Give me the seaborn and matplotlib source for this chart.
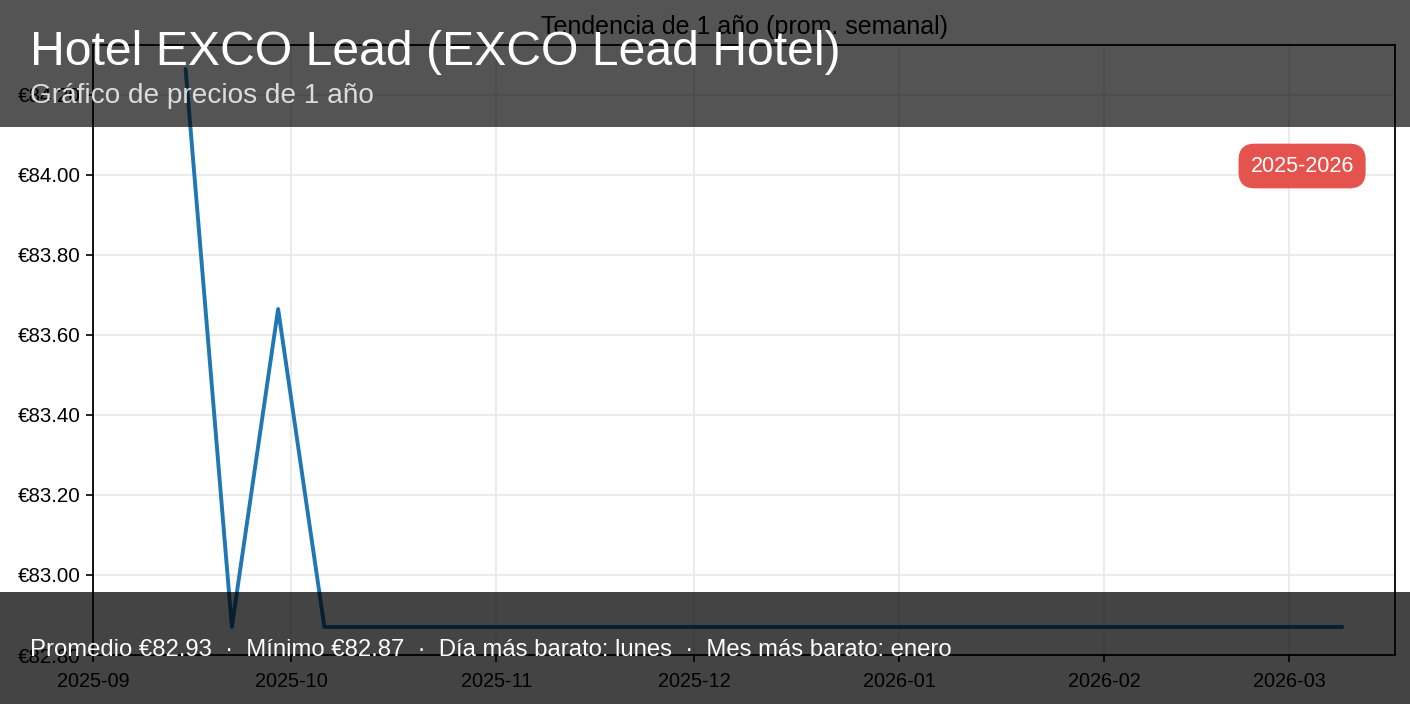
import matplotlib
matplotlib.use("Agg")
import matplotlib.pyplot as plt
import seaborn as sns
import pandas as pd
import numpy as np
from matplotlib.patches import Rectangle
import matplotlib.dates as mdates
import matplotlib.ticker as mticker

# ---- data ----
week_start = "2025-09-15"
n_weeks = 26
prices = [84.265, 82.87, 83.665, 82.87, 82.87, 82.87, 82.87, 82.87, 82.87, 82.87,
          82.87, 82.87, 82.87, 82.87, 82.87, 82.87, 82.87, 82.87, 82.87, 82.87,
          82.87, 82.87, 82.87, 82.87, 82.87, 82.87]
dates = pd.date_range(week_start, periods=n_weeks, freq="7D")
title = "Hotel EXCO Lead (EXCO Lead Hotel)"
subtitle = "Gráfico de precios de 1 año"
axes_title = "Tendencia de 1 año (prom. semanal)"
badge = "2025-2026"
footer = "Promedio €82.93  ·  Mínimo €82.87  ·  Día más barato: lunes  ·  Mes más barato: enero"

df = pd.DataFrame({"fecha": dates, "precio": prices})

sns.set_theme(style="ticks")
plt.rcParams["font.family"] = ["Liberation Sans", "DejaVu Sans"]

fig = plt.figure(figsize=(14.1, 7.04), dpi=100)
ax = fig.add_axes([0.066, 0.0696, 0.9234, 0.8665])

sns.lineplot(data=df, x="fecha", y="precio", ax=ax, color="#1f77b4", linewidth=2.8)

ax.set_xlim(pd.Timestamp("2025-09-01"), pd.Timestamp("2026-03-17"))
ax.set_ylim(82.80, 84.325)
ax.xaxis.set_major_locator(mdates.MonthLocator())
ax.xaxis.set_major_formatter(mdates.DateFormatter("%Y-%m"))
ax.yaxis.set_major_locator(mticker.MultipleLocator(0.2))
ax.yaxis.set_major_formatter(mticker.FuncFormatter(lambda v, p: f"€{v:.2f}"))
ax.tick_params(axis="x", labelsize=14.3, colors="black", length=5, width=1.2, pad=7)
ax.tick_params(axis="y", labelsize=14.8, colors="black", length=5, width=1.2, pad=4)
ax.grid(True, color="#e8e8e8", linewidth=1.2)
for s in ax.spines.values():
    s.set_color("black")
    s.set_linewidth(1.3)
ax.set_xlabel("")
ax.set_ylabel("")
ax.set_title(axes_title, fontsize=18, color="black", pad=8)

ax.text(0.9286, 0.8016, badge, transform=ax.transAxes, ha="center", va="center",
        fontsize=15.5, color="white",
        bbox=dict(boxstyle="round,pad=0.55,rounding_size=0.75", fc="#e5534f", ec="none"))

# overlay bands
fig.patches.append(Rectangle((0, 0.8196), 1, 0.1804, transform=fig.transFigure,
                             facecolor="black", alpha=0.67, zorder=5, edgecolor="none"))
fig.patches.append(Rectangle((0, 0), 1, 0.159, transform=fig.transFigure,
                             facecolor="black", alpha=0.735, zorder=5, edgecolor="none"))

fig.text(0.0213, 0.907, title, fontsize=34.7, color="white", va="baseline", zorder=6)
fig.text(0.0213, 0.8537, subtitle, fontsize=20.2, color="#dcdcdc", va="baseline", zorder=6)
fig.text(0.0213, 0.0682, footer, fontsize=17.2, color="white", va="baseline", zorder=6)

fig.savefig("out.png", dpi=100)
